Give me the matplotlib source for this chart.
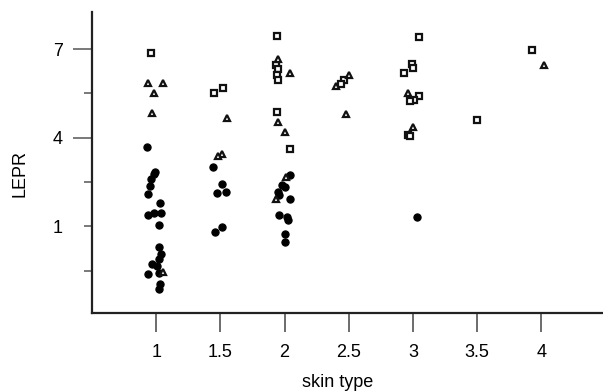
import matplotlib
matplotlib.use("Agg")
import matplotlib.pyplot as plt

plt.rcParams['font.family'] = ['Liberation Sans', 'DejaVu Sans']

# Filled circles (skin type with visible jitter, LEPR)
circle_x = [0.93, 0.99, 0.98, 0.96, 0.95, 0.94, 1.03, 0.98, 0.94, 1.04, 1.02,
            1.02, 1.04, 1.02, 0.97, 1.01, 0.94, 1.02, 1.03, 1.02,
            1.44, 1.51, 1.47, 1.54, 1.51, 1.46,
            2.04, 1.98, 2.00, 1.95, 1.96, 2.04, 1.96, 2.02, 2.03, 2.00, 2.00,
            3.03]
circle_y = [3.69, 2.84, 2.77, 2.60, 2.36, 2.09, 1.78, 1.44, 1.37, 1.44, 1.03,
            0.31, 0.07, -0.10, -0.27, -0.34, -0.61, -0.58, -0.95, -1.12,
            3.01, 2.43, 2.12, 2.15, 0.99, 0.82,
            2.73, 2.39, 2.32, 2.15, 2.05, 1.91, 1.40, 1.33, 1.20, 0.75, 0.48,
            1.30]

# Open squares
square_x = [0.96, 1.45, 1.52, 1.94, 1.93, 1.95, 1.94, 1.95, 1.94, 2.04,
            2.46, 2.44, 3.05, 2.99, 3.00, 2.93, 3.05, 3.01, 2.98, 2.96, 2.98,
            3.50, 3.93]
square_y = [6.86, 5.53, 5.70, 7.44, 6.45, 6.32, 6.11, 5.94, 4.88, 3.62,
            5.94, 5.81, 7.41, 6.49, 6.35, 6.18, 5.43, 5.29, 5.26, 4.10, 4.06,
            4.61, 6.97]

# Open triangles
tri_x = [0.94, 1.05, 0.98, 0.97, 1.05, 1.55, 1.51, 1.48, 1.95, 2.04,
         1.95, 2.00, 2.01, 1.93, 2.50, 2.40, 2.48, 2.96, 3.00, 4.02]
tri_y = [5.87, 5.87, 5.50, 4.85, -0.54, 4.68, 3.45, 3.38, 6.66, 6.18,
         4.54, 4.20, 2.67, 1.91, 6.11, 5.74, 4.82, 5.50, 4.37, 6.45]

x_ticks = [1, 1.5, 2, 2.5, 3, 3.5, 4]
x_tick_labels = ['1', '1.5', '2', '2.5', '3', '3.5', '4']
y_ticks = [1, 4, 7]
y_minor_ticks = [-0.5, 2.5, 5.5]

fig = plt.figure(figsize=(6.03, 3.92), dpi=100)
ax = fig.add_axes([92 / 603, 1 - 313 / 392, 1 - 92 / 603, (313 - 12) / 392])

ax.plot(circle_x, circle_y, linestyle='none', marker='o', ms=5.2,
        mfc='black', mec='black', mew=0.8)
ax.plot(square_x, square_y, linestyle='none', marker='s', ms=4.8,
        mfc='white', mec='#111111', mew=1.6)
ax.plot(tri_x, tri_y, linestyle='none', marker='^', ms=5.0,
        mfc='white', mec='#111111', mew=1.6)

ax.set_xlim(0.5, 4.48)
ax.set_ylim(-1.935, 8.26)

for s in ['top', 'right']:
    ax.spines[s].set_visible(False)
for s in ['left', 'bottom']:
    ax.spines[s].set_linewidth(1.6)
    ax.spines[s].set_color('#222222')

ax.set_xticks(x_ticks)
ax.set_xticklabels(x_tick_labels)
ax.set_yticks(y_ticks)
ax.set_yticklabels([str(v) for v in y_ticks])
ax.set_yticks(y_minor_ticks, minor=True)

ax.tick_params(axis='x', direction='out', length=14, width=1.1, color='#444444',
               labelsize=13, pad=8)
ax.tick_params(axis='y', which='major', direction='out', length=14, width=1.1,
               color='#555555', labelsize=13, pad=7)
ax.tick_params(axis='y', which='minor', direction='out', length=6, width=1.1,
               color='#555555')
# the tick at 1 is drawn short in the reference
ticks = ax.yaxis.get_major_ticks()
ticks[0].tick1line.set_markersize(6)

ax.set_xlabel('skin type', fontsize=13)
ax.set_ylabel('LEPR', fontsize=13)
ax.xaxis.set_label_coords((338 - 92) / 511, (313 - 374) / 301)
ax.yaxis.set_label_coords((29 - 92) / 511, (313 - 174) / 301)

fig.savefig('out.png', dpi=100)
